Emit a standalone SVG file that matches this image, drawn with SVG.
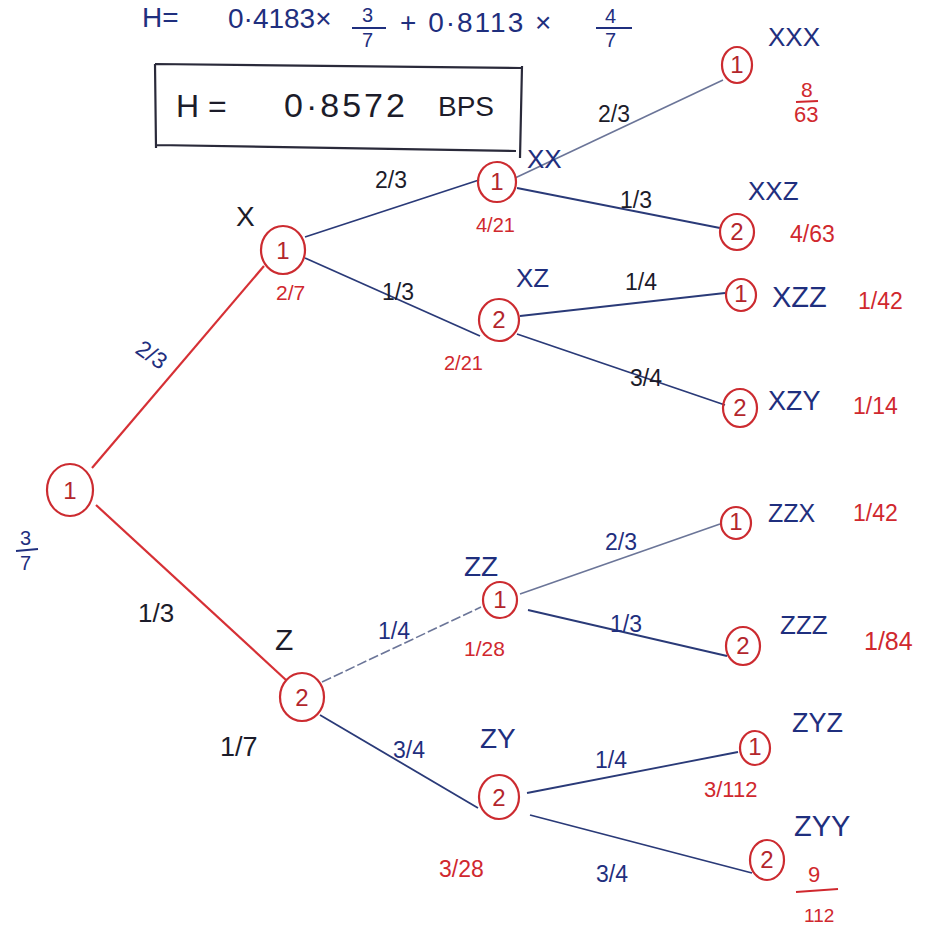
<svg xmlns="http://www.w3.org/2000/svg" width="942" height="928" viewBox="0 0 942 928">
<style>
text{font-family:"Liberation Sans","DejaVu Sans",sans-serif}
.nc{fill:none;stroke:#cc2b30;stroke-width:2.2}
.nt{fill:#b3262c;font-size:24px;text-anchor:middle}
.blu{fill:#1f2f7e}
.red{fill:#d0282e}
.blk{fill:#1c1c2a}
.lab{font-size:26px}
.el{font-size:23px}
.pr{font-size:23px}
.e{stroke:#2a3a78;stroke-width:1.8;fill:none}
.er{stroke:#d63035;stroke-width:2.2;fill:none}
.el2{stroke:#6b7598;stroke-width:1.6;fill:none}
</style>
<rect width="942" height="928" fill="#ffffff"/>

<g id="equation">
<text x="142" y="27" class="blu" font-size="28">H=</text>
<text x="228" y="28" class="blu" font-size="28">0·4183×</text>
<text x="362" y="22" class="blu" font-size="20">3</text>
<line x1="352" y1="28" x2="386" y2="28" stroke="#1f2f7e" stroke-width="2"/>
<text x="362" y="47" class="blu" font-size="20">7</text>
<text x="400" y="32" class="blu" font-size="28" letter-spacing="2">+ 0·8113 ×</text>
<text x="605" y="23" class="blu" font-size="20">4</text>
<line x1="596" y1="28" x2="632" y2="28" stroke="#1f2f7e" stroke-width="2"/>
<text x="605" y="47" class="blu" font-size="20">7</text>
</g>

<g id="result-box">
<path d="M155,64 L521,68 M155,64 L156,148 M156,145 L516,151 M522,66 L520,158" stroke="#2a2a3a" stroke-width="2.2" fill="none"/>
<text x="176" y="117" class="blk" font-size="32">H =</text>
<text x="284" y="117" class="blk" font-size="34" letter-spacing="3">0·8572</text>
<text x="438" y="116" class="blk" font-size="28">BPS</text>
</g>

<g id="connectors">
<line class="er" x1="92" y1="468" x2="264" y2="266"/>
<line class="er" x1="96" y1="505" x2="286" y2="680"/>
<line class="e" x1="305" y1="237" x2="479" y2="180"/>
<line class="e" x1="305" y1="258" x2="480" y2="336"/>
<line class="el2" x1="515" y1="178" x2="723" y2="80"/>
<line class="e" x1="517" y1="188" x2="720" y2="228"/>
<line class="e" x1="520" y1="316" x2="725" y2="293"/>
<line class="e" x1="517" y1="334" x2="725" y2="405"/>
<line class="el2" x1="322" y1="682" x2="481" y2="607" stroke-dasharray="10 3"/>
<line class="e" x1="320" y1="715" x2="478" y2="808"/>
<line class="el2" x1="520" y1="594" x2="720" y2="524"/>
<line class="e" x1="528" y1="610" x2="727" y2="656"/>
<line class="e" x1="527" y1="793" x2="738" y2="752"/>
<line class="e" x1="530" y1="815" x2="752" y2="873"/>
</g>

<g id="edge-labels" class="el">
<text x="134" y="352" class="blu" transform="rotate(35 134 352)">2/3</text>
<text x="138" y="622" class="blk" font-size="26">1/3</text>
<text x="375" y="188" class="blk">2/3</text>
<text x="382" y="300" class="blk">1/3</text>
<text x="598" y="122" class="blk">2/3</text>
<text x="620" y="208" class="blk">1/3</text>
<text x="625" y="290" class="blk">1/4</text>
<text x="630" y="386" class="blk">3/4</text>
<text x="378" y="639" class="blu">1/4</text>
<text x="393" y="758" class="blu">3/4</text>
<text x="605" y="550" class="blu">2/3</text>
<text x="610" y="632" class="blu">1/3</text>
<text x="595" y="768" class="blu">1/4</text>
<text x="596" y="882" class="blu">3/4</text>
</g>

<g id="n-root">
<ellipse class="nc" cx="70" cy="490" rx="23" ry="26"/>
<text class="nt" x="70" y="499">1</text>
<text x="20" y="545" class="blu" font-size="20">3</text>
<line x1="16" y1="551" x2="38" y2="549" stroke="#1f2f7e" stroke-width="2"/>
<text x="20" y="570" class="blu" font-size="20">7</text>
</g>

<g id="n-x">
<ellipse class="nc" cx="283" cy="250" rx="22" ry="24"/>
<text class="nt" x="283" y="259">1</text>
<text x="236" y="226" class="blk" font-size="28">X</text>
<text x="276" y="300" class="red" font-size="21">2/7</text>
</g>

<g id="n-z">
<ellipse class="nc" cx="302" cy="697" rx="22" ry="24"/>
<text class="nt" x="302" y="706">2</text>
<text x="275" y="650" class="blk" font-size="30">Z</text>
<text x="220" y="756" class="blk" font-size="27">1/7</text>
</g>

<g id="n-xx">
<ellipse class="nc" cx="497" cy="182" rx="19" ry="20"/>
<text class="nt" x="497" y="190">1</text>
<text x="527" y="168" class="blu lab">XX</text>
<text x="476" y="232" class="red" font-size="20">4/21</text>
</g>

<g id="n-xz">
<ellipse class="nc" cx="499" cy="320" rx="20" ry="21"/>
<text class="nt" x="499" y="328">2</text>
<text x="516" y="287" class="blu lab">XZ</text>
<text x="444" y="370" class="red" font-size="20">2/21</text>
</g>

<g id="n-xxx">
<ellipse class="nc" cx="737" cy="65" rx="15" ry="18"/>
<text class="nt" x="737" y="73" font-size="20">1</text>
<text x="768" y="46" class="blu lab">XXX</text>
<text x="801" y="97" class="red" font-size="21">8</text>
<line x1="796" y1="102" x2="818" y2="101" stroke="#d0282e" stroke-width="2"/>
<text x="794" y="122" class="red" font-size="22">63</text>
</g>

<g id="n-xxz">
<ellipse class="nc" cx="737" cy="232" rx="17" ry="18"/>
<text class="nt" x="737" y="240" font-size="20">2</text>
<text x="748" y="200" class="blu lab">XXZ</text>
<text x="790" y="242" class="red pr">4/63</text>
</g>

<g id="n-xzz">
<ellipse class="nc" cx="741" cy="295" rx="15" ry="16"/>
<text class="nt" x="741" y="302" font-size="18">1</text>
<text x="772" y="307" class="blu" font-size="29">XZZ</text>
<text x="858" y="309" class="red pr">1/42</text>
</g>

<g id="n-xzy">
<ellipse class="nc" cx="740" cy="408" rx="17" ry="19"/>
<text class="nt" x="740" y="416" font-size="20">2</text>
<text x="768" y="410" class="blu" font-size="27">XZY</text>
<text x="853" y="414" class="red pr">1/14</text>
</g>

<g id="n-zz">
<ellipse class="nc" cx="500" cy="600" rx="17" ry="18"/>
<text class="nt" x="500" y="608" font-size="22">1</text>
<text x="464" y="576" class="blu" font-size="28">ZZ</text>
<text x="464" y="656" class="red" font-size="21">1/28</text>
</g>

<g id="n-zy">
<ellipse class="nc" cx="499" cy="797" rx="20" ry="22"/>
<text class="nt" x="499" y="806">2</text>
<text x="480" y="748" class="blu" font-size="28">ZY</text>
<text x="439" y="877" class="red pr">3/28</text>
</g>

<g id="n-zzx">
<ellipse class="nc" cx="736" cy="523" rx="15" ry="16"/>
<text class="nt" x="736" y="530" font-size="18">1</text>
<text x="768" y="522" class="blu" font-size="25">ZZX</text>
<text x="853" y="521" class="red pr">1/42</text>
</g>

<g id="n-zzz">
<ellipse class="nc" cx="743" cy="646" rx="17" ry="19"/>
<text class="nt" x="743" y="654" font-size="20">2</text>
<text x="780" y="634" class="blu" font-size="26">ZZZ</text>
<text x="864" y="650" class="red" font-size="25">1/84</text>
</g>

<g id="n-zyz">
<ellipse class="nc" cx="755" cy="748" rx="15" ry="17"/>
<text class="nt" x="755" y="755" font-size="18">1</text>
<text x="792" y="732" class="blu" font-size="27">ZYZ</text>
<text x="704" y="797" class="red" font-size="22">3/112</text>
</g>

<g id="n-zyy">
<ellipse class="nc" cx="767" cy="860" rx="17" ry="20"/>
<text class="nt" x="767" y="868" font-size="20">2</text>
<text x="794" y="836" class="blu" font-size="29">ZYY</text>
<text x="808" y="882" class="red" font-size="22">9</text>
<line x1="796" y1="892" x2="838" y2="889" stroke="#d0282e" stroke-width="2"/>
<text x="804" y="922" class="red" font-size="19">112</text>
</g>
</svg>
